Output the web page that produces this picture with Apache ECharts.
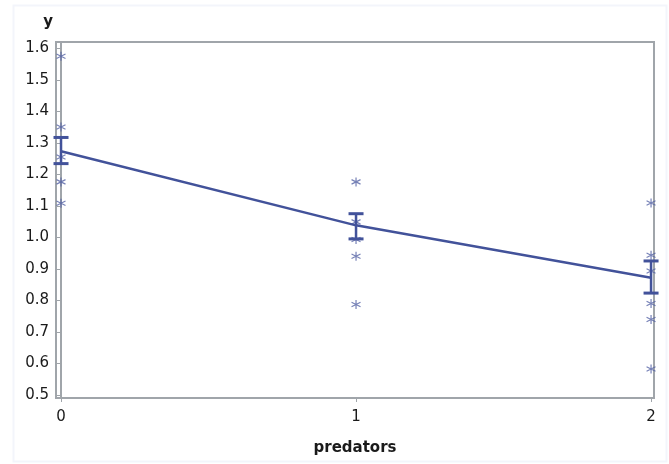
<!DOCTYPE html>
<html>
<head>
<meta charset="utf-8">
<script src="https://cdn.jsdelivr.net/npm/echarts@6/dist/echarts.min.js"></script>
<style>html,body{margin:0;padding:0;background:#fff}#c{width:669px;height:464px}</style>
</head>
<body>
<div id="c"></div>
<script>
// data
var predators = [0, 1, 2];
var obsX = [0, 0, 0, 0, 0, 1, 1, 1, 1, 1, 2, 2, 2, 2, 2, 2];
var obsY = [1.575, 1.35, 1.255, 1.176, 1.108, 1.176, 1.049, 0.993, 0.940, 0.787, 1.109, 0.943, 0.893, 0.790, 0.739, 0.582];
var meanY = [1.273, 1.038, 0.872];
var lowY = [1.234, 0.995, 0.823];
var highY = [1.317, 1.075, 0.925];
var yTicks = [0.5, 0.6, 0.7, 0.8, 0.9, 1.0, 1.1, 1.2, 1.3, 1.4, 1.5, 1.6];
var xTicks = [0, 1, 2];

var lineColor = '#42529a';
var starColor = '#5563a5';
var frameColor = '#a0a5aa';
var font = 'DejaVu Sans';

var scatterData = obsX.map(function (x, i) { return [x, obsY[i]]; });
var meanData = predators.map(function (x, i) { return [x, meanY[i]]; });
var errData = predators.map(function (x, i) { return [x, lowY[i], highY[i]]; });

var chart = echarts.init(document.getElementById('c'), null, {renderer: 'canvas'});
chart.setOption({
  backgroundColor: '#ffffff',
  animation: false,
  graphic: [{
    type: 'rect', silent: true, z: -10,
    shape: {x: 13.5, y: 5.5, width: 653, height: 456},
    style: {fill: 'none', stroke: '#f3f5fb', lineWidth: 2}
  }],
  grid: {
    left: 56, right: 15, top: 42, bottom: 66,
    show: true, borderColor: frameColor, borderWidth: 2, backgroundColor: 'transparent'
  },
  xAxis: {
    type: 'value', min: -0.017, max: 2.01,
    name: 'predators', nameLocation: 'middle', nameGap: 43,
    nameTextStyle: {fontFamily: font, fontSize: 15, fontWeight: 'bold', color: '#1a1a1a'},
    axisLine: {show: true, lineStyle: {color: frameColor, width: 2}},
    axisTick: {show: true, length: 4, customValues: xTicks, lineStyle: {color: frameColor, width: 1}},
    axisLabel: {customValues: xTicks, fontFamily: font, fontSize: 15, color: '#1a1a1a', margin: 12,
      formatter: function (v) { return String(Math.round(v)); }},
    splitLine: {show: false}
  },
  yAxis: {
    type: 'value', min: 0.49, max: 1.62,
    name: 'y', nameLocation: 'end', nameGap: 12,
    nameTextStyle: {fontFamily: font, fontSize: 15, fontWeight: 'bold', color: '#1a1a1a', align: 'right', padding: [0, 8, 0, 0]},
    axisLine: {show: true, lineStyle: {color: frameColor, width: 2}},
    axisTick: {show: true, length: 4, customValues: yTicks, lineStyle: {color: frameColor, width: 1}},
    axisLabel: {customValues: yTicks, fontFamily: font, fontSize: 15, color: '#1a1a1a', margin: 7,
      formatter: function (v) { return v.toFixed(1); }},
    splitLine: {show: false}
  },
  series: [
    {
      type: 'scatter',
      data: scatterData,
      symbol: 'path://M5,0L5,10M0.67,2.5L9.33,7.5M0.67,7.5L9.33,2.5',
      symbolSize: 9,
      itemStyle: {color: 'none', borderColor: starColor, borderWidth: 1.2},
      z: 3
    },
    {
      type: 'line',
      data: meanData,
      showSymbol: false,
      lineStyle: {color: lineColor, width: 2.5},
      z: 4
    },
    {
      type: 'custom',
      data: errData,
      z: 5,
      renderItem: function (params, api) {
        var x = api.value(0);
        var lo = api.coord([x, api.value(1)]);
        var hi = api.coord([x, api.value(2)]);
        var hw = 7.5;
        var style = {stroke: lineColor, lineWidth: 2.5, fill: 'none'};
        return {
          type: 'group',
          children: [
            {type: 'line', shape: {x1: lo[0], y1: lo[1], x2: hi[0], y2: hi[1]}, style: style},
            {type: 'line', shape: {x1: lo[0] - hw, y1: lo[1], x2: lo[0] + hw, y2: lo[1]}, style: {stroke: lineColor, lineWidth: 3}},
            {type: 'line', shape: {x1: hi[0] - hw, y1: hi[1], x2: hi[0] + hw, y2: hi[1]}, style: {stroke: lineColor, lineWidth: 3}}
          ]
        };
      }
    }
  ]
});
</script>
</body>
</html>
